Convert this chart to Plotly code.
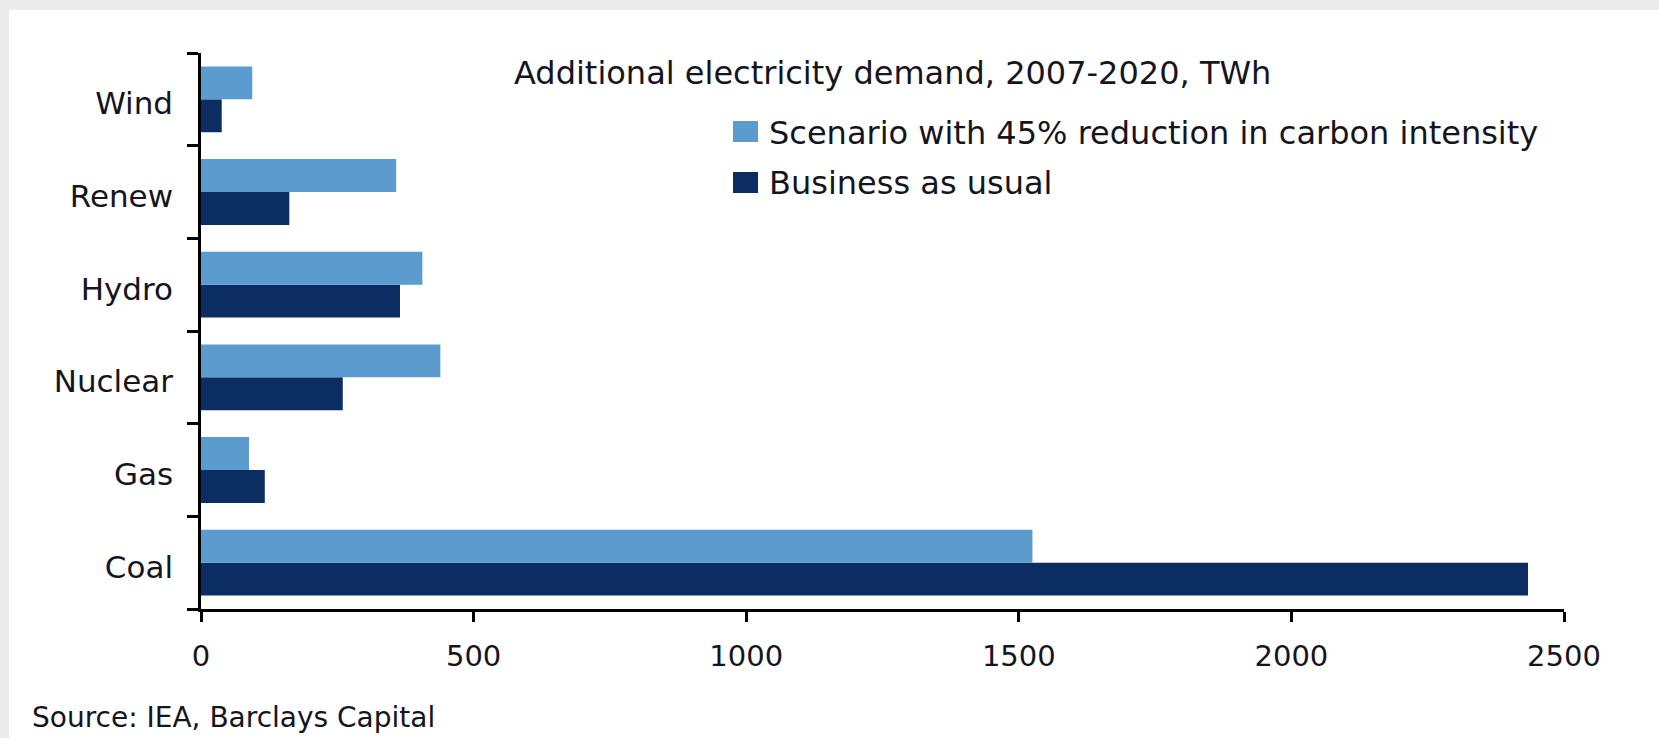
import plotly.graph_objects as go

categories = ["Coal", "Gas", "Nuclear", "Hydro", "Renew", "Wind"]
scenario_45 = [1525, 88, 439, 406, 358, 94]
business_as_usual = [2434, 117, 260, 365, 162, 38]
x_ticks = [0, 500, 1000, 1500, 2000, 2500]

title_text = "Additional electricity demand, 2007-2020, TWh"
legend_labels = ["Scenario with 45% reduction in carbon intensity", "Business as usual"]
source_text = "Source: IEA, Barclays Capital"

LIGHT = "#5b9bcd"
DARK = "#0c2d62"
TXT = "#151520"
FONT = "DejaVu Sans"

W, H = 1659, 738
L, R, T, B = 201, 95, 53, 129
PW, PH = W - L - R, H - T - B


def px(x):
    return (x - L) / PW


def py(y):
    return (H - B - y) / PH


fig = go.Figure()
fig.add_trace(go.Bar(y=categories, x=business_as_usual, orientation="h",
                     marker=dict(color=DARK, line=dict(width=0)), name=legend_labels[1],
                     showlegend=False))
fig.add_trace(go.Bar(y=categories, x=scenario_45, orientation="h",
                     marker=dict(color=LIGHT, line=dict(width=0)), name=legend_labels[0],
                     showlegend=False))

shapes = [
    dict(type="rect", xref="paper", yref="paper", x0=px(9), x1=px(W + 5),
         y0=py(H + 5), y1=py(10), fillcolor="white", line=dict(width=0), layer="below"),
    dict(type="rect", xref="paper", yref="paper", x0=px(733), x1=px(758),
         y0=py(142), y1=py(121), fillcolor=LIGHT, line=dict(width=0)),
    dict(type="rect", xref="paper", yref="paper", x0=px(733), x1=px(758),
         y0=py(193), y1=py(172), fillcolor=DARK, line=dict(width=0)),
]

annotations = [
    dict(text=title_text, xref="paper", yref="paper", x=px(892), y=py(73),
         xanchor="center", yanchor="middle", showarrow=False,
         font=dict(family=FONT, size=32, color=TXT)),
    dict(text=legend_labels[0], xref="paper", yref="paper", x=px(767), y=py(133),
         xanchor="left", yanchor="middle", showarrow=False,
         font=dict(family=FONT, size=32, color=TXT)),
    dict(text=legend_labels[1], xref="paper", yref="paper", x=px(767), y=py(183),
         xanchor="left", yanchor="middle", showarrow=False,
         font=dict(family=FONT, size=32, color=TXT)),
    dict(text=source_text, xref="paper", yref="paper", x=px(30), y=py(717),
         xanchor="left", yanchor="middle", showarrow=False,
         font=dict(family=FONT, size=28, color=TXT)),
]

fig.update_layout(
    width=W, height=H,
    margin=dict(l=L, r=R, t=T, b=B, pad=0),
    paper_bgcolor="#ebebeb", plot_bgcolor="rgba(0,0,0,0)",
    barmode="group", bargap=0.29, bargroupgap=0,
    showlegend=False,
    shapes=shapes, annotations=annotations,
    font=dict(family=FONT, color=TXT),
    xaxis=dict(range=[0, 2500], tickvals=x_ticks, ticktext=[str(v) for v in x_ticks],
               showgrid=False, zeroline=False, showline=True, linecolor="black",
               linewidth=2.5, ticks="outside", ticklen=10, tickwidth=2.5,
               tickcolor="black", ticklabelstandoff=9,
               tickfont=dict(family=FONT, size=29, color=TXT)),
    yaxis=dict(type="category", categoryorder="array", categoryarray=categories,
               range=[-0.5, 5.5], tickson="boundaries", showgrid=False,
               zeroline=False, showline=True, linecolor="black", linewidth=2.5,
               ticks="outside", ticklen=11, tickwidth=2.5, tickcolor="black",
               ticklabelstandoff=19, ticklabelshift=4,
               tickfont=dict(family=FONT, size=31, color=TXT)),
)

fig.write_html("out.html")
